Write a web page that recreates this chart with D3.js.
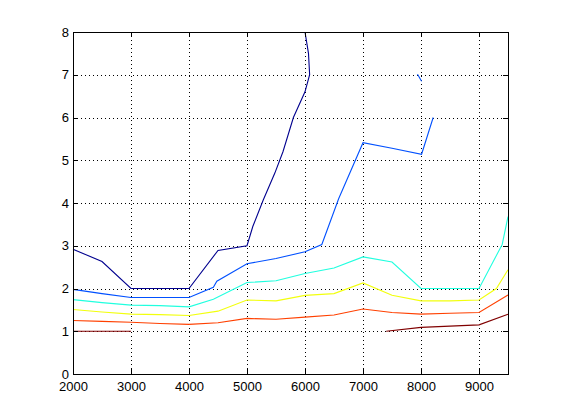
<!DOCTYPE html>
<html>
<head>
<meta charset="utf-8">
<script src="https://cdn.jsdelivr.net/npm/d3@7"></script>
<style>
html,body{margin:0;padding:0;background:#fff;}
svg{display:block;}
text{font-family:"Liberation Sans",Arial,Helvetica,sans-serif;font-size:13px;fill:#000;}
</style>
</head>
<body>
<svg id="chart" width="561" height="420"></svg>
<script>
// Tick labels
const xTicks = [2000, 3000, 4000, 5000, 6000, 7000, 8000, 9000];
const yTicks = [0, 1, 2, 3, 4, 5, 6, 7, 8];

// Contour lines (x values and y values), one level per colour
const darkRedAX = [2000, 3000];
const darkRedAY = [1.0, 1.0];
const darkRedBX = [7400, 8000, 8500, 9000, 9500];
const darkRedBY = [1.0, 1.09, 1.12, 1.15, 1.40];

const orangeX = [2000, 2500, 3000, 3500, 4000, 4500, 5000, 5500, 6000, 6500, 7000, 7500, 8000, 8500, 9000, 9500];
const orangeY = [1.25, 1.23, 1.21, 1.18, 1.16, 1.2, 1.30, 1.28, 1.33, 1.38, 1.52, 1.44, 1.40, 1.42, 1.44, 1.85];

const yellowX = [2000, 2500, 3000, 3500, 4000, 4500, 5000, 5500, 6000, 6500, 7000, 7500, 8000, 8500, 9000, 9300, 9500];
const yellowY = [1.51, 1.45, 1.40, 1.39, 1.37, 1.47, 1.73, 1.71, 1.84, 1.88, 2.13, 1.84, 1.71, 1.71, 1.73, 2.0, 2.44];

const cyanX = [2000, 2500, 3000, 3500, 4000, 4420, 5000, 5500, 6000, 6500, 7000, 7500, 8000, 8500, 9000, 9400, 9500];
const cyanY = [1.74, 1.67, 1.61, 1.60, 1.57, 1.75, 2.14, 2.18, 2.35, 2.48, 2.74, 2.62, 2.0, 2.0, 2.0, 3.03, 3.68];

const blueAX = [2000, 2500, 3000, 3500, 4000, 4420, 4480, 5000, 5500, 6000, 6290, 6580, 7000, 7500, 8010, 8210];
const blueAY = [1.98, 1.88, 1.79, 1.79, 1.79, 2.03, 2.17, 2.58, 2.70, 2.86, 3.03, 4.1, 5.41, 5.28, 5.14, 6.0];
const blueBX = [7940, 8010];
const blueBY = [7.01, 6.85];

const darkBlueX = [2000, 2500, 3000, 3500, 4000, 4500, 5000, 5100, 5280, 5480, 5620, 5800, 6000, 6080, 6060, 6000];
const darkBlueY = [2.92, 2.63, 2.0, 2.0, 2.0, 2.89, 3.0, 3.45, 4.07, 4.7, 5.2, 6.0, 6.6, 7.0, 7.5, 8.0];

const lines = [
  {x: darkRedAX, y: darkRedAY, c: "#800000"},
  {x: darkRedBX, y: darkRedBY, c: "#800000"},
  {x: orangeX, y: orangeY, c: "#ff4000"},
  {x: yellowX, y: yellowY, c: "#f2ff0d"},
  {x: cyanX, y: cyanY, c: "#20ffdf"},
  {x: blueAX, y: blueAY, c: "#0050ff"},
  {x: blueBX, y: blueBY, c: "#0050ff"},
  {x: darkBlueX, y: darkBlueY, c: "#00008f"}
];

const svg = d3.select("#chart");
const L = 73, R = 508, T = 32, B = 374;
const x = d3.scaleLinear().domain([2000, 9500]).range([L, R]);
const y = d3.scaleLinear().domain([0, 8]).range([B, T]);

// grid
const g = svg.append("g");
g.selectAll(".gx").data(xTicks.filter(d => d > 2000)).enter().append("line")
  .attr("x1", d => Math.round(x(d)) + 0.5).attr("x2", d => Math.round(x(d)) + 0.5)
  .attr("y1", T).attr("y2", B)
  .attr("stroke", "#000").attr("stroke-width", 1).attr("stroke-dasharray", "1,3")
  .attr("shape-rendering", "crispEdges");
g.selectAll(".gy").data(yTicks.filter(d => d > 0 && d < 8)).enter().append("line")
  .attr("y1", d => Math.round(y(d)) + 0.5).attr("y2", d => Math.round(y(d)) + 0.5)
  .attr("x1", L).attr("x2", R)
  .attr("stroke", "#000").attr("stroke-width", 1).attr("stroke-dasharray", "1,3")
  .attr("shape-rendering", "crispEdges");

// contour lines
const lineGen = d3.line().x(d => x(d[0])).y(d => y(d[1]));
svg.append("g").selectAll("path").data(lines).enter().append("path")
  .attr("d", d => lineGen(d.x.map((v, i) => [v, d.y[i]])))
  .attr("fill", "none").attr("stroke", d => d.c).attr("stroke-width", 1.1);

// axes with inward ticks
const tl = 5;
const xb = d3.axisBottom(x).tickValues(xTicks).tickSizeInner(-tl).tickSizeOuter(0).tickPadding(8).tickFormat(d3.format("d"));
const xt = d3.axisTop(x).tickValues(xTicks).tickSizeInner(-tl).tickSizeOuter(0).tickFormat("");
const yl = d3.axisLeft(y).tickValues(yTicks).tickSizeInner(-tl).tickSizeOuter(0).tickPadding(4).tickFormat(d3.format("d"));
const yr = d3.axisRight(y).tickValues(yTicks).tickSizeInner(-tl).tickSizeOuter(0).tickFormat("");

function style(sel) {
  sel.selectAll("path").remove();
  sel.selectAll("line").attr("stroke", "#000").attr("shape-rendering", "crispEdges");
  sel.selectAll("text").attr("fill", "#000").style("font-size", "13px")
    .style("font-family", '"Liberation Sans",Arial,sans-serif');
}
svg.append("g").attr("transform", `translate(0,${B})`).call(xb).call(style);
svg.append("g").attr("transform", `translate(0,${T})`).call(xt).call(style);
svg.append("g").attr("transform", `translate(${L},0)`).call(yl).call(style);
svg.append("g").attr("transform", `translate(${R},0)`).call(yr).call(style);

// box
svg.append("rect").attr("x", L + 0.5).attr("y", T + 0.5).attr("width", R - L).attr("height", B - T)
  .attr("fill", "none").attr("stroke", "#000").attr("stroke-width", 1).attr("shape-rendering", "crispEdges");
</script>
</body>
</html>
